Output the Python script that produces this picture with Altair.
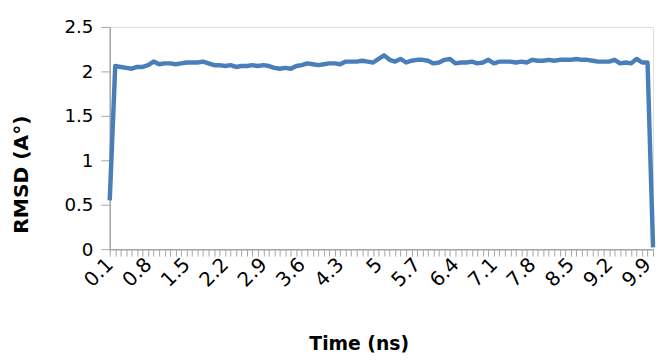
import altair as alt
import pandas as pd

times = [f"{(i + 1) / 10:g}" for i in range(100)]
rmsd = [
    0.55, 2.06, 2.05, 2.04, 2.03, 2.05, 2.05, 2.07, 2.11, 2.08,
    2.09, 2.09, 2.08, 2.09, 2.10, 2.10, 2.10, 2.11, 2.09, 2.07,
    2.07, 2.06, 2.07, 2.05, 2.06, 2.06, 2.07, 2.06, 2.07, 2.06,
    2.04, 2.03, 2.04, 2.03, 2.06, 2.07, 2.09, 2.08, 2.07, 2.08,
    2.09, 2.09, 2.08, 2.11, 2.11, 2.11, 2.12, 2.11, 2.10, 2.14,
    2.18, 2.13, 2.11, 2.14, 2.10, 2.12, 2.13, 2.13, 2.12, 2.09,
    2.10, 2.13, 2.14, 2.09, 2.10, 2.10, 2.11, 2.09, 2.10, 2.13,
    2.09, 2.11, 2.11, 2.11, 2.10, 2.11, 2.10, 2.13, 2.12, 2.12,
    2.13, 2.12, 2.13, 2.13, 2.13, 2.14, 2.13, 2.13, 2.12, 2.11,
    2.11, 2.11, 2.13, 2.09, 2.10, 2.09, 2.14, 2.10, 2.10, 0.02,
]
shown_labels = [times[i] for i in range(0, 100, 7)]

df = pd.DataFrame({"time": times, "rmsd": rmsd})

label_list = "[" + ",".join(f"'{t}'" for t in shown_labels) + "]"

FONT = "DejaVu Sans"
GRAY = "#a6a6a6"

chart = (
    alt.Chart(df)
    .mark_line(color="#4a7ebb", strokeWidth=4.5, strokeJoin="round")
    .encode(
        x=alt.X(
            "time:O",
            sort=times,
            scale=alt.Scale(type="point", padding=0),
            axis=alt.Axis(
                title="Time (ns)",
                labelAngle=-45,
                labelAlign="right",
                labelBaseline="middle",
                labelExpr=f"indexof({label_list}, datum.value) >= 0 ? datum.value : ''",
                labelOverlap=False,
                labelFont=FONT,
                labelFontSize=20,
                labelColor="#000000",
                labelPadding=5,
                tickSize=7,
                tickColor=GRAY,
                domainColor=GRAY,
                domainWidth=1.5,
                titleFont=FONT,
                titleFontSize=19,
                titleFontWeight="bold",
                titleColor="#000000",
                titleX=252,
                titleY=87,
                titleBaseline="top",
                grid=False,
            ),
        ),
        y=alt.Y(
            "rmsd:Q",
            scale=alt.Scale(domain=[0, 2.5], nice=False),
            axis=alt.Axis(
                title="RMSD (A°)",
                values=[0, 0.5, 1, 1.5, 2, 2.5],
                format="~g",
                labelFont=FONT,
                labelFontSize=18.5,
                labelColor="#000000",
                labelPadding=8,
                tickSize=9,
                tickColor=GRAY,
                domainColor=GRAY,
                domainWidth=1.5,
                titleFont=FONT,
                titleFontSize=20.5,
                titleFontWeight="bold",
                titleColor="#000000",
                titleX=-89,
                titleY=149,
                titleAngle=-90,
                titleBaseline="middle",
                grid=False,
            ),
        ),
    )
    .properties(
        width=550,
        height=225,
        autosize=alt.AutoSizeParams(type="none"),
        padding={"left": 103, "top": 17, "right": 3, "bottom": 110},
    )
    .configure_view(stroke=None)
    .configure(background="white")
)

chart.save("out.html", embed_options={"renderer": "svg", "actions": False})
